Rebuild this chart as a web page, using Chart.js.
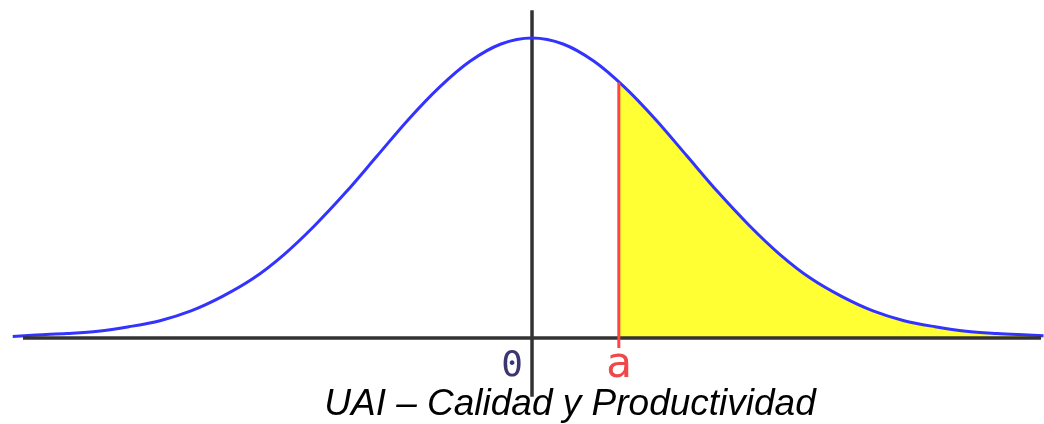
<!DOCTYPE html>
<html>
<head>
<meta charset="utf-8">
<script src="https://cdn.jsdelivr.net/npm/chart.js@4/dist/chart.umd.min.js"></script>
<style>
  html, body { margin: 0; padding: 0; background: #fff; }
  #wrap { width: 1044px; height: 424px; position: relative; }
</style>
</head>
<body>
<div id="wrap"><canvas id="chart_1"></canvas></div>
<script>
// standard normal curve (z units, density)
const zValues = [-3.35, -3.2, -3.0, -2.8, -2.6, -2.4, -2.2, -2.0, -1.8, -1.6, -1.4, -1.2, -1.0, -0.8, -0.6, -0.4, -0.2, 0,
  0.2, 0.4, 0.6, 0.8, 1.0, 1.2, 1.4, 1.6, 1.8, 2.0, 2.2, 2.4, 2.6, 2.8, 3.0, 3.2, 3.3];
const density = [0.002, 0.004, 0.006, 0.009, 0.015, 0.023, 0.036, 0.055, 0.079, 0.111, 0.150, 0.194, 0.242, 0.290, 0.333, 0.368, 0.391, 0.399,
  0.391, 0.368, 0.333, 0.290, 0.242, 0.194, 0.150, 0.111, 0.079, 0.055, 0.036, 0.023, 0.015, 0.009, 0.006, 0.004, 0.003];

// the cut point "a" and the curve height there
const aValue = 0.56;
const aDensity = 0.341;

const tickLabels = ["0", "a"];
const titleText = "UAI – Calidad y Productividad";

const curve = zValues.map((z, i) => ({ x: z, y: density[i] }));
const tail = [{ x: aValue, y: aDensity }].concat(curve.filter((p) => p.x > aValue));

const axesPlugin = {
  id: "axes",
  beforeDatasetsDraw(chart) {
    const { ctx, scales: { x, y } } = chart;
    ctx.save();
    ctx.strokeStyle = "#333333";
    ctx.lineWidth = 3.5;
    ctx.beginPath();
    ctx.moveTo(x.getPixelForValue(0), y.getPixelForValue(0.436));
    ctx.lineTo(x.getPixelForValue(0), y.getPixelForValue(-0.078));
    ctx.stroke();
    ctx.restore();
  },
  afterDatasetsDraw(chart) {
    const { ctx, scales: { x, y } } = chart;
    const y0 = y.getPixelForValue(0);
    ctx.save();
    // horizontal axis
    ctx.strokeStyle = "#333333";
    ctx.lineWidth = 3.5;
    ctx.beginPath();
    ctx.moveTo(x.getPixelForValue(-3.284), y0);
    ctx.lineTo(x.getPixelForValue(3.284), y0);
    ctx.stroke();
    // red marker at a
    const xa = x.getPixelForValue(aValue);
    ctx.strokeStyle = "#ff4444";
    ctx.lineWidth = 3;
    ctx.beginPath();
    ctx.moveTo(xa, y.getPixelForValue(aDensity) + 1);
    ctx.lineTo(xa, y0 + 10);
    ctx.stroke();
    // labels
    ctx.textAlign = "center";
    ctx.textBaseline = "alphabetic";
    ctx.font = "36px 'DejaVu Sans Mono'";
    ctx.fillStyle = "#3b3570";
    ctx.fillText(tickLabels[0], x.getPixelForValue(0) - 20, y0 + 38);
    ctx.font = "43px 'DejaVu Sans Mono'";
    ctx.fillStyle = "#f04848";
    ctx.fillText(tickLabels[1], xa, y0 + 39);
    ctx.restore();
  },
};

const ct = document.getElementById("chart_1");

const config = {
  type: "line",
  data: {
    datasets: [
      {
        label: "curva",
        data: curve,
        borderColor: "#3333ff",
        borderWidth: 3,
        pointRadius: 0,
        cubicInterpolationMode: "monotone",
        fill: false,
        clip: false,
        order: 0,
      },
      {
        label: "área",
        data: tail,
        borderWidth: 0,
        borderColor: "rgba(0,0,0,0)",
        backgroundColor: "#ffff33",
        pointRadius: 0,
        cubicInterpolationMode: "monotone",
        fill: "origin",
        clip: false,
        order: 1,
      },
    ],
  },
  options: {
    responsive: true,
    maintainAspectRatio: false,
    animation: false,
    // left padding pushes the centred title to the right, like the original
    layout: { padding: { left: 96, right: 0, top: 0, bottom: 0 } },
    scales: {
      x: {
        type: "linear",
        display: false,
        bounds: "data",
        // set range here (not min/max) so the left tail outside the area still gets drawn
        afterDataLimits(scale) {
          scale.min = -2.8129;
          scale.max = 3.303;
        },
      },
      y: { min: -0.0632, max: 0.4495, display: false },
    },
    plugins: {
      legend: { display: false },
      tooltip: { enabled: false },
      title: {
        display: true,
        position: "bottom",
        text: titleText,
        color: "#000000",
        padding: 0,
        font: { family: "'Liberation Sans', Arial, sans-serif", size: 37, style: "italic", weight: "normal", lineHeight: 1.04 },
      },
    },
  },
  plugins: [axesPlugin],
};

new Chart(ct, config);
</script>
</body>
</html>
